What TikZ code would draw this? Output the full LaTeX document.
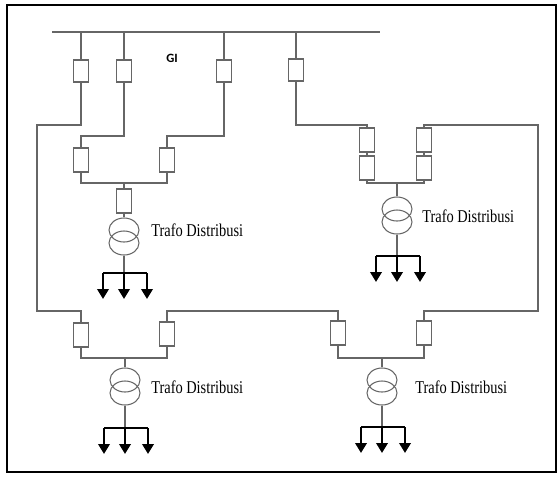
\documentclass[tikz,border=0pt]{standalone}
\usepackage{fontspec}
\setmainfont{Liberation Serif}
\newfontfamily\gifont{Carlito}
\usetikzlibrary{arrows.meta,shapes.geometric,calc}

\begin{document}
\begin{tikzpicture}[x=0.75pt,y=-0.75pt,
	brk/.style={draw=black!60,line width=0.8pt,minimum width=11pt,minimum height=18pt,inner sep=0pt},
	tr/.style={draw=black!60,line width=0.8pt,ellipse,minimum width=22.5pt,minimum height=18pt,inner sep=0pt},
	wire/.style={draw=black!60,line width=0.8pt},
	load/.style={-{Triangle[width=8.5pt,length=7.5pt]},line width=2.2pt},
	lbl/.style={anchor=base west,inner sep=0pt,font=\fontsize{13.5}{14}\selectfont}]
	\useasboundingbox (0,0) rectangle (560,480);
	\draw[line width=2pt] (7,5) rectangle (556,472);

	% rel GI
	\coordinate (bl) at (52,32);
	\coordinate (br) at (380,32);
	\draw[wire] (bl) -- (br);
	\node[font=\gifont\bfseries\fontsize{9.5}{10}\selectfont] (gi) at (172,58) {GI};

	\node[brk,minimum height=16.5pt] (q1) at (81,71) {};
	\node[brk,minimum height=16.5pt] (q2) at (124,71) {};
	\node[brk,minimum height=16.5pt] (q3) at (224,71) {};
	\node[brk,minimum height=16.5pt] (q4) at (296,70) {};
	\foreach \q in {q1,q2,q3,q4}{
		\draw[wire] (\q |- bl) -- (\q.north);
	}

	% gardu 1
	\node[brk] (qa) at (81,160) {};
	\node[brk] (qb) at (167,160) {};
	\node[brk] (qc) at (124,201) {};
	\node[tr] (tA1) at (124,230) {};
	\node[tr] (tA2) at (124,243) {};
	\coordinate (k2) at (81,136);
	\coordinate (k3) at (167,136);
	\coordinate (j1) at (124,183);
	\draw[wire] (q2.south) |- (k2) -- (qa.north);
	\draw[wire] (q3.south) |- (k3) -- (qb.north);
	\draw[wire] (qa.south) |- (j1) -| (qb.south);
	\draw[wire] (j1) -- (qc.north);
	\draw[wire] (qc.south) -- (tA1.north);
	\node[lbl] (labA) at (151,236) {\scalebox{0.8}[1]{Trafo Distribusi}};

	% gardu 2
	\node[brk] (qe) at (367,140) {};
	\node[brk] (qf) at (367,168) {};
	\node[brk] (qg) at (424,140) {};
	\node[brk] (qh) at (424,168) {};
	\node[tr] (tB1) at (397,209) {};
	\node[tr] (tB2) at (397,222) {};
	\coordinate (k4) at (367,125);
	\coordinate (j2) at (397,183);
	\draw[wire] (q4.south) |- (k4) -- (qe.north);
	\draw[wire] (qe.south) -- (qf.north);
	\draw[wire] (qg.south) -- (qh.north);
	\draw[wire] (qf.south) |- (j2) -| (qh.south);
	\draw[wire] (j2) -- (tB1.north);
	\node[lbl] (labB) at (422,222) {\scalebox{0.8}[1]{Trafo Distribusi}};

	% gardu 3 dan 4
	\node[brk] (qd) at (81,335) {};
	\node[brk] (qi) at (167,334) {};
	\node[brk] (qj) at (338,333) {};
	\node[brk] (qk) at (424,333) {};
	\node[tr] (tC1) at (125,380) {};
	\node[tr] (tC2) at (125,393) {};
	\node[tr] (tD1) at (382,380) {};
	\node[tr] (tD2) at (382,393) {};
	\coordinate (c1) at (37,125);
	\coordinate (c2) at (37,311);
	\coordinate (c3) at (538,125);
	\coordinate (c4) at (538,311);
	\coordinate (c5) at (252,311);
	\coordinate (j3) at (125,358);
	\coordinate (j4) at (382,358);
	\draw[wire] (q1.south) |- (c1) -- (c2) -| (qd.north);
	\draw[wire] (qg.north) |- (c3) -- (c4) -| (qk.north);
	\draw[wire] (qi.north) |- (c5) -| (qj.north);
	\draw[wire] (qd.south) |- (j3) -| (qi.south);
	\draw[wire] (qj.south) |- (j4) -| (qk.south);
	\draw[wire] (j3) -- (tC1.north);
	\draw[wire] (j4) -- (tD1.north);
	\node[lbl] (labC) at (151,393) {\scalebox{0.8}[1]{Trafo Distribusi}};
	\node[lbl] (labD) at (415,393) {\scalebox{0.8}[1]{Trafo Distribusi}};

	% beban
	\coordinate (ldA) at (124,273);
	\coordinate (ldB) at (397,256);
	\coordinate (ldC) at (125,428);
	\coordinate (ldD) at (382,427);
	\foreach \t in {A,B,C,D}{
		\draw[wire] (t\t2.south) -- (ld\t);
		\draw[line width=1.5pt] ($(ld\t)+(-21,0)$) -- ($(ld\t)+(23,0)$);
		\foreach \d in {-21,0,23}{
			\draw[load] ($(ld\t)+(\d,0)$) -- ++(0,26);
		}
	}
\end{tikzpicture}
\end{document}
